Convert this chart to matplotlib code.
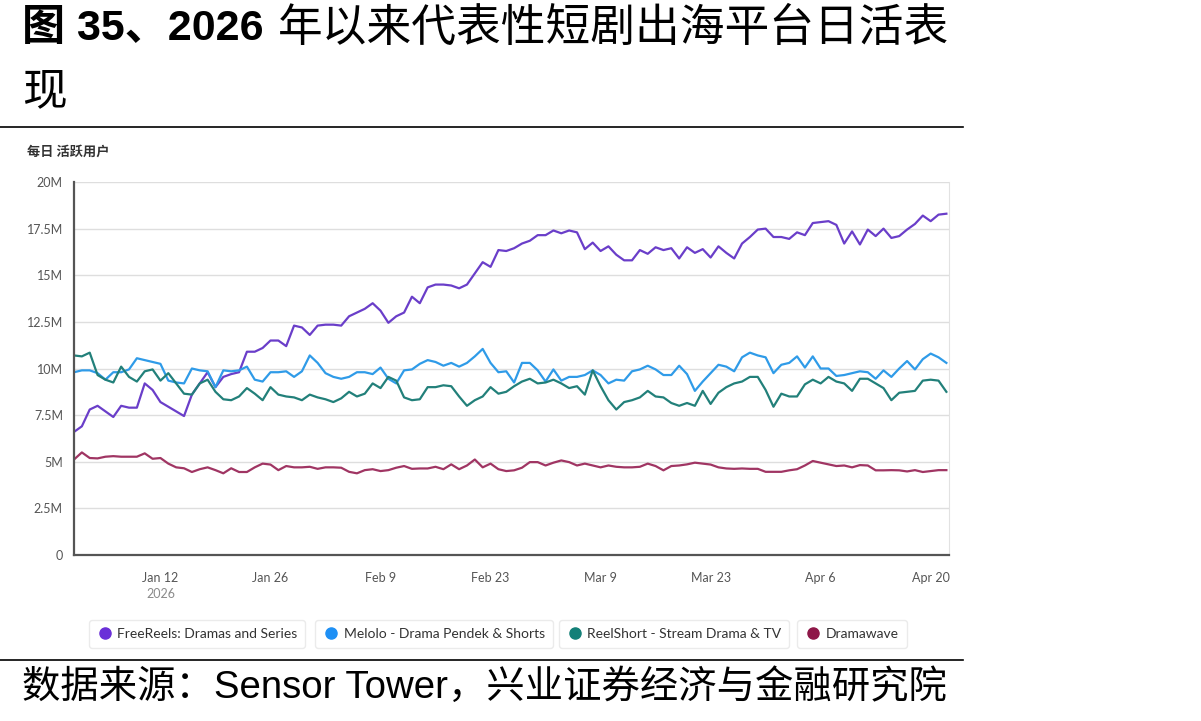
import matplotlib
matplotlib.use('Agg')
import matplotlib.pyplot as plt
import matplotlib.dates as mdates
from matplotlib.lines import Line2D
import pandas as pd

# daily active users, in millions, Jan 1 - Apr 22 2026
dates = pd.date_range('2026-01-01', periods=112, freq='D')

freereels = [6.6, 6.9, 7.8, 8.0, 7.7, 7.4, 8.0, 7.9, 7.9, 9.2,
             8.85, 8.2, 7.95, 7.7, 7.45, 8.6, 9.2, 9.8, 9.0, 9.55,
             9.7, 9.8, 10.9, 10.9, 11.1, 11.5, 11.5, 11.2, 12.3, 12.2,
             11.8, 12.3, 12.35, 12.35, 12.3, 12.8, 13.0, 13.2, 13.5, 13.1,
             12.45, 12.8, 13.0, 13.85, 13.5, 14.35, 14.5, 14.5, 14.45, 14.3,
             14.5, 15.1, 15.7, 15.45, 16.35, 16.3, 16.45, 16.7, 16.85, 17.15,
             17.15, 17.4, 17.25, 17.4, 17.3, 16.4, 16.75, 16.3, 16.55, 16.1,
             15.8, 15.8, 16.35, 16.15, 16.5, 16.35, 16.45, 15.9, 16.5, 16.2,
             16.4, 15.95, 16.55, 16.2, 15.9, 16.7, 17.05, 17.45, 17.5, 17.05,
             17.05, 16.95, 17.3, 17.15, 17.8, 17.85, 17.9, 17.7, 16.7, 17.35,
             16.65, 17.45, 17.1, 17.5, 17.0, 17.1, 17.45, 17.75, 18.2, 17.9,
             18.25, 18.3]

melolo = [9.8, 9.9, 9.9, 9.75, 9.4, 9.8, 9.8, 9.95, 10.55, 10.45,
          10.35, 10.25, 9.35, 9.25, 9.2, 10.0, 9.9, 9.85, 9.0, 9.9,
          9.85, 9.9, 10.1, 9.4, 9.3, 9.8, 9.8, 9.85, 9.55, 9.85,
          10.7, 10.3, 9.75, 9.55, 9.45, 9.55, 9.8, 9.8, 9.7, 10.05,
          9.45, 9.2, 9.9, 9.95, 10.25, 10.45, 10.35, 10.15, 10.3, 10.1,
          10.3, 10.65, 11.05, 10.3, 9.8, 9.85, 9.25, 10.3, 10.3, 9.9,
          9.3, 9.95, 9.35, 9.55, 9.55, 9.65, 9.9, 9.65, 9.2, 9.4,
          9.35, 9.85, 9.95, 10.15, 9.95, 9.65, 9.65, 10.15, 9.7, 8.8,
          9.3, 9.75, 10.2, 10.1, 9.85, 10.6, 10.85, 10.7, 10.6, 9.75,
          10.2, 10.3, 10.65, 10.05, 10.65, 10.0, 10.0, 9.6, 9.65, 9.75,
          9.85, 9.8, 9.45, 9.9, 9.55, 10.0, 10.4, 9.95, 10.5, 10.8,
          10.6, 10.3]

reelshort = [10.7, 10.65, 10.85, 9.65, 9.4, 9.25, 10.1, 9.55, 9.3, 9.85,
             9.95, 9.35, 9.75, 9.2, 8.65, 8.6, 9.2, 9.4, 8.75, 8.35,
             8.3, 8.5, 8.95, 8.65, 8.3, 9.0, 8.6, 8.5, 8.45, 8.3,
             8.6, 8.45, 8.35, 8.2, 8.4, 8.75, 8.5, 8.65, 9.2, 8.95,
             9.55, 9.35, 8.45, 8.3, 8.35, 9.0, 9.0, 9.1, 9.05, 8.5,
             8.0, 8.3, 8.5, 9.0, 8.65, 8.75, 9.05, 9.3, 9.45, 9.2,
             9.25, 9.4, 9.2, 8.95, 9.05, 8.6, 9.9, 9.05, 8.3, 7.8,
             8.2, 8.3, 8.45, 8.8, 8.5, 8.45, 8.15, 8.0, 8.15, 8.0,
             8.8, 8.1, 8.7, 9.0, 9.2, 9.3, 9.55, 9.55, 8.85, 7.95,
             8.65, 8.5, 8.5, 9.15, 9.4, 9.2, 9.55, 9.3, 9.2, 8.8,
             9.45, 9.45, 9.2, 8.95, 8.3, 8.7, 8.75, 8.8, 9.35, 9.4,
             9.35, 8.75]

dramawave = [5.12, 5.5, 5.2, 5.18, 5.27, 5.3, 5.27, 5.27, 5.27, 5.45,
             5.16, 5.2, 4.9, 4.7, 4.65, 4.45, 4.6, 4.7, 4.55, 4.38,
             4.65, 4.45, 4.45, 4.7, 4.9, 4.85, 4.55, 4.77, 4.7, 4.7,
             4.73, 4.62, 4.7, 4.7, 4.68, 4.46, 4.38, 4.55, 4.6, 4.5,
             4.55, 4.68, 4.77, 4.62, 4.64, 4.64, 4.73, 4.6, 4.86, 4.6,
             4.8, 5.12, 4.7, 4.9, 4.6, 4.5, 4.54, 4.68, 4.98, 4.98,
             4.8, 4.95, 5.07, 4.98, 4.8, 4.9, 4.8, 4.7, 4.8, 4.73,
             4.7, 4.7, 4.73, 4.9, 4.77, 4.54, 4.77, 4.8, 4.86, 4.95,
             4.9, 4.85, 4.7, 4.64, 4.62, 4.64, 4.62, 4.62, 4.46, 4.46,
             4.46, 4.54, 4.6, 4.8, 5.04, 4.95, 4.86, 4.77, 4.8, 4.7,
             4.82, 4.8, 4.54, 4.54, 4.55, 4.54, 4.48, 4.55, 4.45, 4.5,
             4.55, 4.55]

series_names = ['FreeReels: Dramas and Series', 'Melolo - Drama Pendek & Shorts',
                'ReelShort - Stream Drama & TV', 'Dramawave']
line_colors = ['#6a3ec9', '#2f9be8', '#22807a', '#a03563']
dot_colors = ['#6a2fd8', '#1e90f5', '#138078', '#8e1748']

tick_dates = ['2026-01-12', '2026-01-26', '2026-02-09', '2026-02-23',
              '2026-03-09', '2026-03-23', '2026-04-06', '2026-04-20']
tick_labels = ['Jan 12', 'Jan 26', 'Feb 9', 'Feb 23', 'Mar 9', 'Mar 23', 'Apr 6', 'Apr 20']
y_ticks = [0, 2.5, 5, 7.5, 10, 12.5, 15, 17.5, 20]
y_labels = ['0', '2.5M', '5M', '7.5M', '10M', '12.5M', '15M', '17.5M', '20M']

cjk = ['Liberation Sans', 'Noto Sans CJK SC']
plt.rcParams['font.family'] = ['Lato', 'Noto Sans CJK SC']

fig = plt.figure(figsize=(12.01, 7.21), dpi=100)
ax = fig.add_axes([74 / 1201, 1 - 555 / 721, 875 / 1201, 373 / 721])

for vals, c in zip([freereels, melolo, reelshort, dramawave], line_colors):
    ax.plot(dates, vals, color=c, lw=1.6, solid_joinstyle='round')

ax.set_xlim(dates[0], dates[-1] + pd.Timedelta(hours=8))
ax.set_ylim(0, 20)
ax.set_yticks(y_ticks)
ax.set_yticklabels(y_labels)
ax.set_xticks(pd.to_datetime(tick_dates))
ax.set_xticklabels(tick_labels)
ax.tick_params(axis='both', length=0, labelsize=9, colors='#555555')
ax.tick_params(axis='x', pad=12)
ax.tick_params(axis='y', pad=8)
ax.grid(axis='y', color='#dedede', lw=1)
ax.set_axisbelow(True)
ax.spines['top'].set_visible(False)
ax.spines['right'].set_color('#e2e2e2')
ax.spines['left'].set_color('#555555')
ax.spines['bottom'].set_color('#555555')
ax.spines['left'].set_linewidth(1.6)
ax.spines['bottom'].set_linewidth(1.6)
ax.text(mdates.date2num(pd.Timestamp(tick_dates[0])), -0.105, '2026', transform=ax.get_xaxis_transform(),
        ha='center', va='center', fontsize=9, color='#8a8a8a')

fig.text(27 / 1201, 1 - 152 / 721, '每日 活跃用户', fontsize=9.5, color='#333333',
         fontweight='bold', va='center', family=['Noto Sans CJK SC'])

# title
t1 = fig.text(22 / 1201, 1 - 29 / 721, '图 35、2026', fontsize=31, fontweight='bold',
              va='center', family=cjk)
fig.canvas.draw()
bb = t1.get_window_extent(fig.canvas.get_renderer())
fig.text((bb.x1 + 14) / 1201, 1 - 29 / 721, '年以来代表性短剧出海平台日活表', fontsize=32.2,
         va='center', family=cjk)
fig.text(22 / 1201, 1 - 94 / 721, '现', fontsize=32.2, va='center', family=cjk)
fig.add_artist(Line2D([0, 963 / 1201], [1 - 127 / 721] * 2, color='black', lw=1.2))
fig.add_artist(Line2D([0, 963 / 1201], [1 - 660 / 721] * 2, color='black', lw=1.2))
fig.text(22 / 1201, 1 - 688 / 721, '数据来源：Sensor Tower，兴业证券经济与金融研究院', fontsize=27.6,
         va='center', family=cjk)

# legend chips
chip_x = [197, 434, 674, 852]
for name, c, cx in zip(series_names, dot_colors, chip_x):
    h = Line2D([], [], marker='o', ls='', color=c, markersize=8)
    fig.legend(handles=[h], labels=[name], loc='center', bbox_to_anchor=(cx / 1201, 1 - 634 / 721),
               frameon=True, fancybox=True, edgecolor='#e6e6e6', fontsize=10, handletextpad=0.3,
               borderpad=0.55, labelcolor='#333333', handlelength=1.2)

fig.savefig('out.png', dpi=100)
